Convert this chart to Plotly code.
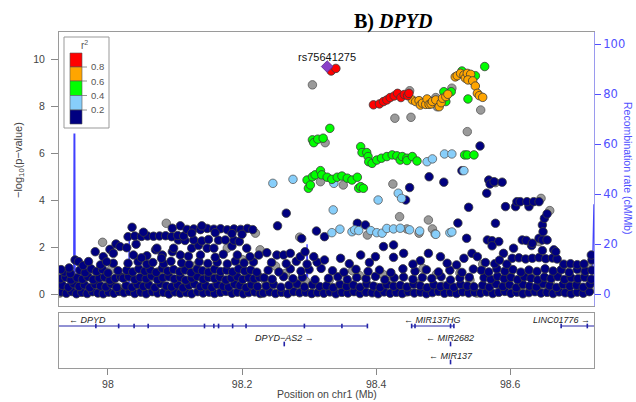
import plotly.graph_objects as go

W, H = 636, 402
def fx(p): return p / W
def fy(p): return 1 - p / H

# ---------------- data (Mb, -log10 p) ----------------
lead_x = [98.327]; lead_y = [9.69]; lead_name = "rs75641275"

red = [(98.333,9.50),(98.340,9.61),(98.396,8.06),(98.405,8.10),(98.411,8.20),(98.416,8.27),(98.421,8.37),
       (98.427,8.44),(98.432,8.55),(98.437,8.37),(98.442,8.50),(98.447,8.45),(98.449,8.55)]

orange = [(98.454,8.27),(98.459,8.20),(98.464,8.24),(98.466,8.05),(98.469,8.13),(98.474,8.08),(98.476,8.31),
          (98.479,8.08),(98.482,8.10),(98.484,8.20),(98.489,8.27),(98.494,7.98),(98.497,8.15),(98.499,8.34),
          (98.504,8.41),(98.507,8.51),(98.518,9.25),(98.521,9.30),(98.526,9.40),(98.531,9.33),(98.533,9.20),
          (98.536,9.40),(98.541,9.36),(98.537,9.12),(98.544,9.08),(98.548,8.86),(98.551,8.55),(98.554,8.45),
          (98.559,8.38)]

green = [(98.331,7.06),(98.305,6.57),(98.307,6.45),(98.313,6.60),(98.321,6.64),
         (98.377,6.28),(98.379,6.03),(98.386,6.03),(98.388,5.86),(98.389,5.64),(98.394,5.57),(98.401,5.71),
         (98.408,5.79),(98.416,5.86),(98.424,5.93),(98.431,5.89),(98.436,5.71),(98.439,5.86),(98.446,5.79),
         (98.446,5.69),(98.454,5.86),(98.461,5.67),(98.532,5.93),(98.536,5.93),(98.546,5.93),
         (98.297,4.86),(98.299,4.51),(98.302,4.65),(98.305,5.00),(98.309,5.08),(98.317,5.26),(98.319,5.08),
         (98.327,4.98),(98.334,4.89),(98.342,4.98),(98.349,5.03),(98.357,4.94),(98.364,4.86),(98.372,4.98),
         (98.374,4.51),(98.377,4.58),(98.381,4.51),
         (98.501,8.62),(98.512,8.62),(98.504,8.20),(98.537,8.31),(98.562,9.69),(98.528,9.50),(98.548,9.30)]

lblue = [(98.246,4.72),(98.276,4.89),(98.337,4.72),(98.336,3.59),(98.403,4.01),(98.433,4.30),(98.438,4.08),
         (98.476,5.64),(98.484,5.76),(98.502,5.97),(98.513,5.97),(98.531,5.26),
         (98.334,2.62),(98.346,2.77),(98.364,2.66),(98.368,2.74),(98.374,2.71),(98.392,2.71),(98.401,2.62),
         (98.409,2.60),(98.416,2.80),(98.426,2.78),(98.436,2.81),(98.450,2.74),(98.465,2.69),(98.489,2.55),
         (98.510,2.62),(98.513,2.65)]

grey = [(97.928,0.05),(97.935,0.22),(97.948,0.55),(97.958,0.70),(97.962,0.15),(97.975,0.85),(97.992,2.21),
        (97.998,0.48),(98.005,1.05),(98.015,0.30),(98.030,0.90),(98.045,0.20),(98.052,0.40),(98.060,0.58),
        (98.075,0.95),(98.087,3.02),(98.095,0.18),(98.110,0.62),(98.120,0.10),(98.130,1.20),(98.145,0.25),
        (98.155,0.80),(98.165,0.50),(98.178,1.96),(98.190,0.85),(98.200,1.48),(98.210,0.30),(98.220,2.60),
        (98.227,1.89),(98.235,0.55),(98.250,1.20),(98.265,0.89),(98.280,0.20),(98.286,2.43),(98.295,0.55),
        (98.304,0.04),(98.330,0.60),(98.340,0.15),(98.352,0.22),(98.365,1.00),(98.375,0.80),(98.387,2.52),
        (98.400,0.30),(98.410,0.85),(98.420,0.55),(98.435,3.30),(98.445,0.10),(98.446,2.78),(98.460,0.45),
        (98.464,2.60),(98.470,1.10),(98.478,3.16),(98.484,2.78),(98.488,2.57),(98.490,0.85),(98.500,0.35),
        (98.515,0.20),(98.525,0.90),(98.540,0.60),(98.550,0.05),(98.559,1.28),(98.575,0.50),(98.578,4.75),
        (98.590,0.30),(98.600,0.90),(98.620,0.25),(98.630,0.75),(98.643,2.24),(98.646,4.08),(98.650,0.15),
        (98.659,3.56),(98.660,0.55),(98.680,1.10),(98.690,0.65),(98.700,0.40),(98.710,0.85),(98.715,1.20),
        (98.720,0.20),(98.305,8.91),(98.324,6.45),(98.317,4.79),(98.351,4.65),(98.425,4.69),(98.428,7.49),
        (98.452,7.53),(98.450,8.66),(98.491,7.98),(98.489,8.37),(98.513,8.77),(98.556,7.84),(98.536,6.92)]

navy_a = [(97.930,0.10),(97.938,0.04),(97.946,0.12),(97.953,0.02),(97.961,0.08),(97.969,0.03),(97.977,0.11),
          (97.985,0.05),(97.993,0.02),(98.001,0.09),(98.009,0.04),(98.017,0.12),
          (97.932,0.38),(97.941,0.30),(97.949,0.45),(97.957,0.33),(97.965,0.40),(97.973,0.28),(97.981,0.42),
          (97.989,0.35),(97.997,0.31),(98.005,0.44),(98.013,0.29),
          (97.929,0.66),(97.937,0.72),(97.945,0.61),(97.954,0.70),(97.962,0.64),(97.970,0.75),(97.978,0.62),
          (97.987,0.69),(97.995,0.73),(98.003,0.60),(98.011,0.68),(98.019,0.74),
          (97.935,0.95),(97.944,0.88),(97.958,1.02),(97.966,0.92),(97.975,1.08),(97.983,0.97),(97.992,1.05),
          (98.000,0.90),(98.015,1.00),
          (97.951,1.46),(97.956,1.39),(97.963,1.22),(97.971,1.39),(97.981,1.81),(97.989,1.25),(97.993,1.60),
          (98.003,1.91),(98.008,1.74),(98.008,1.32),(98.012,2.14),(98.018,2.03),(97.998,1.38),(97.942,1.12),
          (97.930,1.05)]

navy_b = [(98.024,0.06),(98.032,0.12),(98.040,0.03),(98.049,0.09),(98.057,0.02),(98.066,0.11),(98.074,0.05),
          (98.083,0.08),(98.091,0.01),(98.100,0.10),(98.108,0.04),(98.117,0.07),(98.125,0.02),(98.134,0.11),
          (98.142,0.05),(98.151,0.09),(98.159,0.03),(98.168,0.08),(98.176,0.12),(98.185,0.04),(98.193,0.09),
          (98.202,0.02),(98.210,0.07),(98.219,0.10),(98.227,0.03),
          (98.027,0.36),(98.036,0.30),(98.044,0.42),(98.053,0.33),(98.061,0.39),(98.070,0.28),(98.078,0.45),
          (98.087,0.35),(98.095,0.31),(98.104,0.40),(98.112,0.27),(98.121,0.38),(98.129,0.44),(98.138,0.32),
          (98.146,0.36),(98.155,0.29),(98.163,0.41),(98.172,0.34),(98.180,0.30),(98.189,0.43),(98.197,0.37),
          (98.206,0.28),(98.214,0.40),(98.223,0.33),
          (98.023,0.68),(98.031,0.75),(98.040,0.63),(98.048,0.71),(98.057,0.66),(98.065,0.78),(98.074,0.62),
          (98.082,0.70),(98.091,0.74),(98.099,0.65),(98.108,0.72),(98.116,0.60),(98.125,0.69),(98.133,0.76),
          (98.142,0.64),(98.150,0.71),(98.159,0.67),(98.167,0.73),(98.176,0.61),(98.184,0.69),(98.193,0.75),
          (98.201,0.63),(98.210,0.70),(98.218,0.66),(98.226,0.72),
          (98.028,1.02),(98.037,0.95),(98.046,1.08),(98.055,0.98),(98.063,1.04),(98.072,0.93),(98.081,1.10),
          (98.089,0.99),(98.098,1.05),(98.107,0.96),(98.115,1.03),(98.124,0.92),(98.133,1.07),(98.141,1.00),
          (98.150,0.94),(98.159,1.06),(98.168,0.97),(98.177,1.02),(98.186,0.95),(98.195,1.08),(98.204,0.99),
          (98.213,1.03),(98.222,0.94),
          (98.030,1.32),(98.045,1.38),(98.058,1.28),(98.067,1.35),(98.083,1.30),(98.094,1.40),(98.110,1.33),
          (98.121,1.27),(98.136,1.38),(98.149,1.31),(98.163,1.36),(98.178,1.29),(98.190,1.41),(98.203,1.33),
          (98.217,1.37),
          (98.038,1.67),(98.058,1.64),(98.081,1.67),(98.096,1.81),(98.108,1.67),(98.120,1.62),(98.138,1.67),
          (98.160,1.57),(98.172,1.70),(98.193,1.67),(98.212,1.60),(98.225,1.67),(98.050,1.55),(98.080,1.53),
          (98.071,1.89),
          (98.073,1.96),(98.098,1.96),(98.125,1.96),(98.148,1.96),(98.158,1.96),(98.207,1.96),(98.042,2.13),
          (98.028,1.98),(98.185,2.05),(98.135,2.08),
          (98.105,2.31),(98.115,2.29),(98.128,2.31),(98.140,2.27),(98.150,2.33),(98.165,2.30),(98.175,2.31),
          (98.188,2.30),(98.196,2.24),
          (98.030,2.45),(98.040,2.48),(98.050,2.46),(98.059,2.48),(98.068,2.47),(98.077,2.48),(98.086,2.49),
          (98.095,2.45),(98.104,2.50),(98.113,2.48),(98.053,2.64),(98.036,2.85),(98.096,2.81),(98.108,2.91),
          (98.118,2.76),(98.128,2.78),(98.138,2.75),(98.148,2.80),(98.158,2.77),(98.168,2.79),(98.178,2.74),
          (98.188,2.78),(98.198,2.76),(98.208,2.80),(98.216,2.75),(98.140,2.91),(98.125,2.60),(98.160,2.62),
          (98.185,2.58),(98.200,2.55)]

navy_c = [(98.232,0.05),(98.241,0.10),(98.250,0.03),(98.259,0.08),(98.268,0.02),(98.277,0.11),(98.286,0.06),
          (98.295,0.09),(98.304,0.03),(98.313,0.07),
          (98.236,0.35),(98.247,0.42),(98.258,0.30),(98.270,0.38),(98.282,0.44),(98.293,0.31),(98.305,0.40),
          (98.316,0.33),
          (98.233,0.70),(98.245,0.64),(98.262,0.75),(98.276,0.66),(98.290,0.72),(98.309,0.62),
          (98.239,1.02),(98.255,0.95),(98.272,1.08),(98.288,0.98),(98.300,1.05),(98.318,1.10),
          (98.244,1.35),(98.266,1.30),(98.281,1.40),(98.297,1.28),(98.312,1.36),
          (98.237,1.77),(98.252,1.67),(98.262,1.67),(98.272,1.74),(98.287,1.60),(98.294,1.81),(98.307,1.60)]

navy_d = [(98.322,0.04),(98.331,0.10),(98.340,0.02),(98.349,0.08),(98.358,0.05),(98.367,0.11),(98.376,0.03),
          (98.385,0.09),(98.394,0.06),(98.403,0.02),(98.412,0.10),(98.421,0.04),(98.430,0.08),(98.439,0.03),
          (98.448,0.11),(98.457,0.05),(98.466,0.09),(98.475,0.02),(98.484,0.07),(98.493,0.12),(98.502,0.04),
          (98.511,0.08),(98.520,0.03),(98.529,0.10),(98.538,0.05),(98.547,0.09),
          (98.326,0.36),(98.336,0.28),(98.346,0.42),(98.356,0.33),(98.366,0.39),(98.376,0.30),(98.386,0.44),
          (98.396,0.35),(98.406,0.29),(98.416,0.41),(98.426,0.34),(98.436,0.38),(98.446,0.31),(98.456,0.43),
          (98.466,0.36),(98.476,0.28),(98.486,0.40),(98.496,0.33),(98.506,0.37),(98.516,0.30),(98.526,0.42),
          (98.536,0.35),(98.546,0.32),
          (98.329,0.68),(98.343,0.74),(98.357,0.63),(98.371,0.71),(98.385,0.66),(98.399,0.76),(98.413,0.62),
          (98.427,0.70),(98.441,0.73),(98.455,0.64),(98.469,0.71),(98.483,0.67),(98.497,0.75),(98.511,0.61),
          (98.525,0.69),(98.539,0.72),
          (98.335,1.00),(98.352,0.94),(98.370,1.06),(98.388,0.97),(98.405,1.03),(98.422,0.92),(98.440,1.08),
          (98.458,0.98),(98.475,1.04),(98.493,0.95),(98.510,1.02),(98.528,0.93),(98.545,1.07),
          (98.323,1.46),(98.347,1.53),(98.377,1.67),(98.399,1.60),(98.411,2.03),(98.426,1.57),(98.441,1.74),
          (98.466,1.43),(98.478,1.74),(98.496,1.60),(98.506,1.32),(98.531,1.53),(98.543,1.74),(98.551,1.60),
          (98.360,1.30),(98.390,1.35),(98.455,1.28),(98.520,1.25)]

navy_e = [(98.556,0.05),(98.565,0.10),(98.574,0.03),(98.583,0.08),(98.592,0.12),(98.601,0.04),(98.610,0.09),
          (98.619,0.02),(98.628,0.07),(98.637,0.11),(98.646,0.05),(98.655,0.08),(98.664,0.03),(98.673,0.10),
          (98.682,0.06),(98.691,0.02),(98.700,0.09),(98.709,0.04),(98.718,0.11),
          (98.559,0.38),(98.569,0.30),(98.579,0.44),(98.589,0.33),(98.599,0.40),(98.609,0.28),(98.619,0.42),
          (98.629,0.35),(98.639,0.31),(98.649,0.45),(98.659,0.36),(98.669,0.29),(98.679,0.41),(98.689,0.34),
          (98.699,0.38),(98.709,0.30),(98.719,0.43),
          (98.561,0.70),(98.571,0.64),(98.581,0.76),(98.591,0.66),(98.601,0.72),(98.611,0.62),(98.621,0.74),
          (98.631,0.68),(98.641,0.61),(98.651,0.73),(98.661,0.67),(98.671,0.75),(98.681,0.63),(98.691,0.70),
          (98.701,0.66),(98.711,0.72),(98.721,0.64),
          (98.557,1.02),(98.568,0.95),(98.580,1.08),(98.592,0.98),(98.604,1.05),(98.616,0.94),(98.628,1.03),
          (98.640,0.97),(98.652,1.08),(98.664,0.99),(98.676,1.04),(98.688,0.93),(98.700,1.06),(98.712,0.98),
          (98.722,1.02),
          (98.603,1.53),(98.613,1.55),(98.623,1.50),(98.633,1.53),(98.643,1.56),(98.653,1.51),(98.663,1.54),
          (98.670,1.50),(98.680,1.28),(98.690,1.30),(98.700,1.26),(98.710,1.29),(98.590,1.74),(98.563,1.35),
          (98.577,1.30),(98.595,1.28),(98.722,1.46),(98.721,1.67),(98.584,1.45)]

navy_hi = [(98.253,2.91),(98.266,3.45),(98.289,2.37),(98.311,2.69),(98.323,2.45),(98.372,3.02),(98.384,2.95),
           (98.426,2.10),(98.450,4.54),(98.444,4.01),(98.479,5.00),(98.501,4.77),(98.528,5.26),(98.538,3.70),
           (98.522,3.03),(98.535,2.38),(98.555,6.31),(98.566,2.31),(98.573,2.28),(98.583,2.24),(98.573,2.06),
           (98.605,1.96),(98.618,2.31),(98.624,2.29),(98.632,2.07),(98.633,2.17),(98.643,2.38),(98.648,2.31),
           (98.655,2.31),(98.665,1.89),(98.668,1.81),(98.648,1.86),(98.578,3.02),(98.648,2.95),(98.649,2.66),
           (98.651,3.23),(98.655,3.42),(98.593,3.73),(98.608,3.73),(98.628,3.73),(98.610,3.94),(98.615,3.94),
           (98.625,3.94),(98.635,3.94),(98.643,3.94),(98.565,4.30),(98.568,4.86),(98.570,4.69),(98.576,4.79),
           (98.588,4.77)]

navy = navy_a + navy_b + navy_c + navy_d + navy_e + navy_hi

# recombination rate (cM/Mb)
recomb_x = [97.927,97.940,97.9490,97.9496,97.9504,97.9510,97.960,97.975,97.990,98.0020,98.0030,98.0040,98.015,
            98.0310,98.0318,98.0326,98.050,98.080,98.110,98.140,98.155,98.158,98.161,98.190,98.220,98.250,98.280,
            98.2960,98.2970,98.2980,98.320,98.350,98.380,98.410,98.440,98.470,98.500,98.520,98.540,98.5540,98.5545,
            98.5550,98.5610,98.5620,98.5630,98.5890,98.5900,98.5910,98.620,98.650,98.680,98.710,98.7225,98.7235,98.725]
recomb_y = [0.6,0.8,1.0,64,64,2.0,1.2,1.0,0.8,1.0,11,1.2,1.0,
            1.2,22,1.5,1.0,0.8,0.7,0.6,1.0,2.5,0.8,0.5,0.4,0.5,0.6,
            0.8,20,1.0,0.5,0.4,0.3,0.3,0.4,0.5,0.5,0.6,0.8,1.5,2.5,
            1.0,1.2,13,1.5,1.5,4,1.5,1.0,0.8,1.0,1.2,1.5,17,36]

# genes
gene_name = ["DPYD", "DPYD\u2212AS2", "MIR137HG", "MIR2682", "MIR137", "LINC01776"]
gene_start = [97.54, 98.2625, 98.453, 98.5105, 98.5108, 98.676]
gene_end = [98.387, 98.2640, 98.516, 98.5113, 98.5116, 98.80]
gene_row = [0, 1, 0, 1, 2, 0]
gene_strand = ["-", "+", "-", "-", "-", "+"]
gene_exons = [[97.982, 98.016, 98.039, 98.060, 98.144, 98.158, 98.165, 98.186, 98.206, 98.293, 98.349, 98.387],
              [98.263], [98.453, 98.458, 98.511, 98.516], [98.511], [98.511], [98.676, 98.715]]

XMIN, XMAX = 97.927, 98.725
Y_MIN, Y_MAX = -0.5, 11.16
R_MIN, R_MAX = -4.7, 104.9

FONT = "Liberation Sans, Arial, sans-serif"
GREYTXT = "#444444"
BLUE = "#5050ff"

fig = go.Figure()

# recombination line (on right axis, drawn underneath)
fig.add_trace(go.Scatter(x=recomb_x, y=recomb_y, mode="lines", xaxis="x", yaxis="y",
                         line=dict(color="rgba(30,30,255,0.85)", width=1.4), hoverinfo="skip"))

def pts(data, fill, outline, size=8.5, symbol="circle", width=0.8):
    fig.add_trace(go.Scatter(x=[p[0] for p in data], y=[p[1] for p in data], mode="markers",
                             xaxis="x", yaxis="y2",
                             marker=dict(color=fill, size=size, symbol=symbol,
                                         line=dict(color=outline, width=width))))

pts(grey, "#9a9a9a", "#5a5a5a")
pts(navy, "#000080", "#3a3a3a")
pts(lblue, "#87CEFA", "#5a5a5a")
pts(green, "#00FF00", "#3a3a3a")
pts(orange, "#FFA500", "#3a3a3a")
pts(red, "#FF0000", "#3a3a3a")
pts(list(zip(lead_x, lead_y)), "#8A3FC8", "#5a2a8a", size=9, symbol="diamond")

# gene track
gx, gy, ex, ey = [], [], [], []
for s, e, r, exs in zip(gene_start, gene_end, gene_row, gene_exons):
    gx += [s, e, None]; gy += [-r, -r, None]
    for v in exs:
        ex += [v, v, None]; ey += [-r - 0.13, -r + 0.13, None]
fig.add_trace(go.Scatter(x=gx, y=gy, mode="lines", xaxis="x2", yaxis="y3",
                         line=dict(color="#2323a8", width=1), hoverinfo="skip"))
fig.add_trace(go.Scatter(x=ex, y=ey, mode="lines", xaxis="x2", yaxis="y3",
                         line=dict(color="#2323a8", width=1.6), hoverinfo="skip"))

ann = []
for n, s, e, r, st in zip(gene_name, gene_start, gene_end, gene_row, gene_strand):
    label = ("\u2190 " + n) if st == "-" else (n + " \u2192")
    if s < XMIN:
        xa, anc = XMIN + 0.012, "left"
    elif e > XMAX:
        xa, anc = XMAX - 0.003, "right"
    else:
        xa, anc = (s + e) / 2, "center"
    ann.append(dict(x=xa, y=-r + 0.36, xref="x2", yref="y3", text="<i>" + label + "</i>", showarrow=False,
                    xanchor=anc, yanchor="middle", font=dict(family=FONT, size=9, color="#222222")))

# lead label
ann.append(dict(x=lead_x[0], y=lead_y[0], xref="x", yref="y2", text=lead_name, showarrow=False,
                yshift=10, xanchor="center", yanchor="middle", font=dict(family=FONT, size=11, color="#111111")))

# titles
ann.append(dict(x=fx(393), y=fy(21), xref="paper", yref="paper", text="<b>B) <i>DPYD</i></b>", showarrow=False,
                xanchor="center", yanchor="middle", font=dict(family="Liberation Serif, Times New Roman, serif",
                                                              size=20, color="#000000")))
ann.append(dict(x=fx(19), y=fy(160), xref="paper", yref="paper", text="\u2212log<sub>10</sub>(p\u2212value)",
                textangle=-90, showarrow=False, xanchor="center", yanchor="middle",
                font=dict(family=FONT, size=11, color=GREYTXT)))
ann.append(dict(x=fx(628), y=fy(168), xref="paper", yref="paper", text="Recombination rate (cM/Mb)",
                textangle=90, showarrow=False, xanchor="center", yanchor="middle",
                font=dict(family=FONT, size=10.5, color=BLUE)))
ann.append(dict(x=fx(327), y=fy(394), xref="paper", yref="paper", text="Position on chr1 (Mb)",
                showarrow=False, xanchor="center", yanchor="middle", font=dict(family=FONT, size=10.5, color=GREYTXT)))

# r2 legend
shapes = [dict(type="rect", xref="paper", yref="paper", x0=fx(64), x1=fx(109), y0=fy(128), y1=fy(37),
               line=dict(color="#999999", width=1), fillcolor="white", layer="above")]
leg_cols = ["#FF0000", "#FFA500", "#00FF00", "#87CEFA", "#000080"]
edges = [53, 67, 81, 95.5, 110, 124]
for i, c in enumerate(leg_cols):
    shapes.append(dict(type="rect", xref="paper", yref="paper", x0=fx(70), x1=fx(82), y0=fy(edges[i + 1]),
                       y1=fy(edges[i]), line=dict(color="#555555", width=0.6), fillcolor=c, layer="above"))
for v, yy in zip(["0.8", "0.6", "0.4", "0.2"], edges[1:5]):
    shapes.append(dict(type="line", xref="paper", yref="paper", x0=fx(82), x1=fx(87), y0=fy(yy), y1=fy(yy),
                       line=dict(color="#777777", width=0.8), layer="above"))
    ann.append(dict(x=fx(89), y=fy(yy), xref="paper", yref="paper", text=v, showarrow=False, xanchor="left",
                    yanchor="middle", font=dict(family=FONT, size=9.5, color="#555555")))
ann.append(dict(x=fx(84), y=fy(45), xref="paper", yref="paper", text="r<sup>2</sup>", showarrow=False,
                xanchor="center", yanchor="middle", font=dict(family=FONT, size=10, color="#555555")))

dom_x = [fx(59), fx(594)]
fig.update_layout(
    template="none", width=W, height=H, margin=dict(l=0, r=0, t=0, b=0),
    paper_bgcolor="white", plot_bgcolor="white", showlegend=False,
    xaxis=dict(domain=dom_x, range=[XMIN, XMAX], anchor="y", showticklabels=False, ticks="",
               showline=True, mirror=True, linecolor="#9a9a9a", linewidth=1, showgrid=False, zeroline=False),
    yaxis=dict(domain=[fy(306), fy(32)], range=[R_MIN, R_MAX], anchor="x", side="right",
               tickvals=[0, 20, 40, 60, 80, 100], ticks="outside", ticklen=6, tickcolor=BLUE,
               tickfont=dict(family="DejaVu Sans, sans-serif", size=11.5, color=BLUE),
               showline=True, linecolor="#9a9aee", showgrid=False, zeroline=False),
    yaxis2=dict(range=[Y_MIN, Y_MAX], overlaying="y", anchor="x", side="left",
                tickvals=[0, 2, 4, 6, 8, 10], ticks="outside", ticklen=7, tickcolor="#888888",
                ticklabelstandoff=4, tickfont=dict(family=FONT, size=10.5, color=GREYTXT),
                showline=True, linecolor="#9a9a9a", showgrid=False, zeroline=False),
    xaxis2=dict(domain=dom_x, range=[XMIN, XMAX], anchor="y3", matches="x",
                tickvals=[98, 98.2, 98.4, 98.6], ticktext=["98", "98.2", "98.4", "98.6"],
                ticks="outside", ticklen=6, tickcolor="#888888",
                tickfont=dict(family=FONT, size=10.5, color=GREYTXT),
                showline=True, mirror=True, linecolor="#9a9a9a", showgrid=False, zeroline=False),
    yaxis3=dict(domain=[fy(368), fy(313)], range=[-2.333, 0.722], anchor="x2", showticklabels=False,
                ticks="", showline=True, mirror=True, linecolor="#9a9a9a", showgrid=False, zeroline=False),
    annotations=ann, shapes=shapes,
)

fig.write_html("out.html")
